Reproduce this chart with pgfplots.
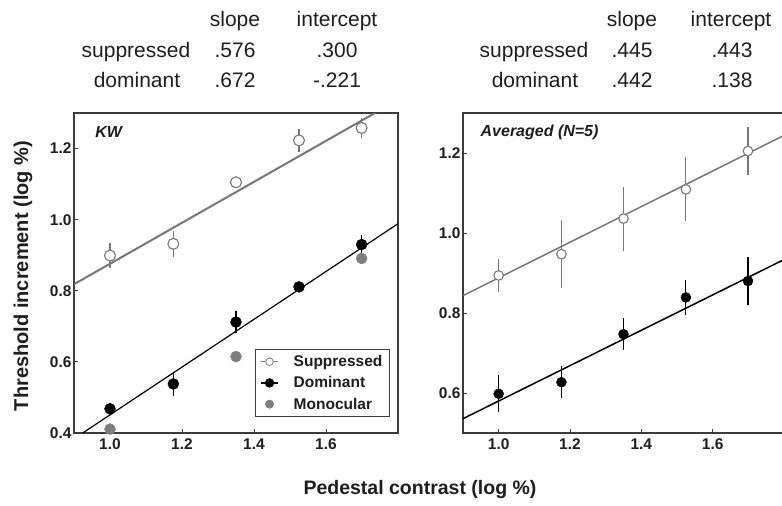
\documentclass[border=0pt]{standalone}
\usepackage{fontspec}
\setmainfont{Liberation Sans}
\usepackage{pgfplots}
\usepackage{pgfplotstable}
\pgfplotsset{compat=1.18}

\definecolor{axisgray}{HTML}{3C3C3C}
\definecolor{supgray}{HTML}{777777}
\definecolor{monogray}{HTML}{7E7E7E}
\definecolor{txt}{HTML}{1E1E1E}

% Observer KW: pedestal contrast (log %), threshold increment (log %), error
\pgfplotstableread{
x      y      e
1.000  0.899  0.036
1.176  0.932  0.036
1.350  1.105  0.010
1.525  1.223  0.032
1.699  1.258  0.027
}\kwsup
\pgfplotstableread{
x      y      e
1.000  0.468  0.015
1.176  0.538  0.034
1.350  0.712  0.030
1.525  0.811  0.015
1.699  0.930  0.027
}\kwdom
\pgfplotstableread{
x      y
1.000  0.411
1.350  0.615
1.699  0.891
}\kwmono
% Average of five observers
\pgfplotstableread{
x      y      e
1.000  0.894  0.042
1.176  0.947  0.085
1.350  1.036  0.080
1.525  1.109  0.080
1.699  1.205  0.060
}\avsup
\pgfplotstableread{
x      y      e
1.000  0.598  0.046
1.176  0.627  0.040
1.350  0.747  0.040
1.525  0.839  0.043
1.699  0.880  0.060
}\avdom

\pgfplotsset{
  thrplot/.style={
    scale only axis, height=320pt,
    xmin=0.9, xmax=1.8,
    xtick={1.0,1.2,1.4,1.6},
    tick align=inside, tick pos=left, major tick length=3.5pt,
    every tick/.style={axisgray, line width=0.9pt},
    axis line style={axisgray, line width=1.3pt},
    tick label style={/pgf/number format/fixed,
      /pgf/number format/fixed zerofill,
      /pgf/number format/precision=1,
      /pgf/number format/assume math mode=true,
      font=\fontsize{15.5}{15.5}\selectfont\bfseries, text=txt},
    xticklabel style={yshift=-2pt},
    yticklabel style={xshift=1pt},
  },
  errs/.style={error bars/.cd, y dir=both, y explicit, error mark=none,
    error bar style={#1, line width=1.1pt}},
}

\begin{document}
\begin{tikzpicture}
\useasboundingbox (0,0) rectangle (782pt,506pt);

% fit parameters
\begin{scope}[font=\fontsize{21}{21}\selectfont, text=txt]
  \node[anchor=base] at (235pt,479pt) {slope};
  \node[anchor=base] at (337pt,479pt) {intercept};
  \node[anchor=base] at (136pt,448pt) {suppressed};
  \node[anchor=base] at (235pt,448pt) {.576};
  \node[anchor=base] at (337pt,448pt) {.300};
  \node[anchor=base] at (137pt,418pt) {dominant};
  \node[anchor=base] at (235pt,418pt) {.672};
  \node[anchor=base] at (337pt,418pt) {-.221};

  \node[anchor=base] at (632pt,479pt) {slope};
  \node[anchor=base] at (731pt,479pt) {intercept};
  \node[anchor=base] at (534pt,448pt) {suppressed};
  \node[anchor=base] at (632pt,448pt) {.445};
  \node[anchor=base] at (732pt,448pt) {.443};
  \node[anchor=base] at (535pt,418pt) {dominant};
  \node[anchor=base] at (632pt,418pt) {.442};
  \node[anchor=base] at (732pt,418pt) {.138};
\end{scope}

% KW
\begin{axis}[thrplot, at={(74pt,73pt)}, anchor=south west, width=324pt,
  ymin=0.4, ymax=1.3, ytick={0.4,0.6,0.8,1.0,1.2},
  legend style={at={(rel axis cs:0.975,0.05)}, anchor=south east,
    draw=axisgray, line width=0.9pt, font=\fontsize{15.5}{15.5}\selectfont\bfseries,
    text=txt, row sep=4.5pt, column sep=13pt, inner xsep=5pt, inner ysep=4pt,
    cells={anchor=west}},
  legend image code/.code={
    \draw[mark repeat=2, mark phase=2] plot coordinates {(0pt,0pt) (8.5pt,0pt) (17pt,0pt)};}]
  \addlegendimage{supgray, line width=0.8pt, mark=*, mark size=3.8pt,
    mark options={fill=white, draw=supgray, line width=0.8pt}}
  \addlegendentry{Suppressed}
  \addlegendimage{black, line width=1.4pt, mark=*, mark size=4pt,
    mark options={fill=black, draw=black}}
  \addlegendentry{Dominant}
  \addlegendimage{only marks, mark=*, mark size=4pt,
    mark options={fill=monogray, draw=monogray}}
  \addlegendentry{Monocular}

  \addplot[supgray, line width=2pt, forget plot] coordinates {(0.9,0.8184) (1.8,1.3368)};
  \addplot[black, line width=1.2pt, forget plot] coordinates {(0.9,0.3838) (1.8,0.9886)};

  \addplot[forget plot, only marks, mark=*, mark size=5.5pt,
    mark options={fill=monogray, draw=monogray}] table[x=x, y=y] {\kwmono};
  \addplot[forget plot, only marks, mark=*, mark size=5.5pt,
    mark options={fill=white, draw=supgray, line width=1.1pt}, errs=supgray]
    table[x=x, y=y, y error=e] {\kwsup};
  \addplot[forget plot, only marks, mark=*, mark size=5.5pt,
    mark options={fill=black, draw=black}, errs=black]
    table[x=x, y=y, y error=e] {\kwdom};

  \node[anchor=west, font=\fontsize{16}{16}\selectfont\bfseries\itshape, text=txt]
    at (rel axis cs:0.055,0.94) {KW};
\end{axis}

% Averaged
\begin{axis}[thrplot, at={(463pt,73pt)}, anchor=south west, width=321pt,
  ymin=0.5, ymax=1.3, ytick={0.6,0.8,1.0,1.2}]
  \addplot[supgray, line width=1.5pt] coordinates {(0.9,0.8435) (1.8,1.2440)};
  \addplot[black, line width=1.5pt] coordinates {(0.9,0.5358) (1.8,0.9336)};

  \addplot[only marks, mark=*, mark size=4.8pt,
    mark options={fill=white, draw=supgray, line width=1.1pt}, errs=supgray]
    table[x=x, y=y, y error=e] {\avsup};
  \addplot[only marks, mark=*, mark size=5pt,
    mark options={fill=black, draw=black}, errs=black]
    table[x=x, y=y, y error=e] {\avdom};

  \node[anchor=west, font=\fontsize{16}{16}\selectfont\bfseries\itshape, text=txt]
    at (rel axis cs:0.044,0.94) {Averaged (N=5)};
\end{axis}

% axis titles
\node[rotate=90, font=\fontsize{20}{20}\selectfont\bfseries, text=txt]
  at (23pt,230pt) {Threshold increment (log \%)};
\node[font=\fontsize{19.5}{19.5}\selectfont\bfseries, text=txt]
  at (420pt,16pt) {Pedestal contrast (log \%)};
\end{tikzpicture}
\end{document}
